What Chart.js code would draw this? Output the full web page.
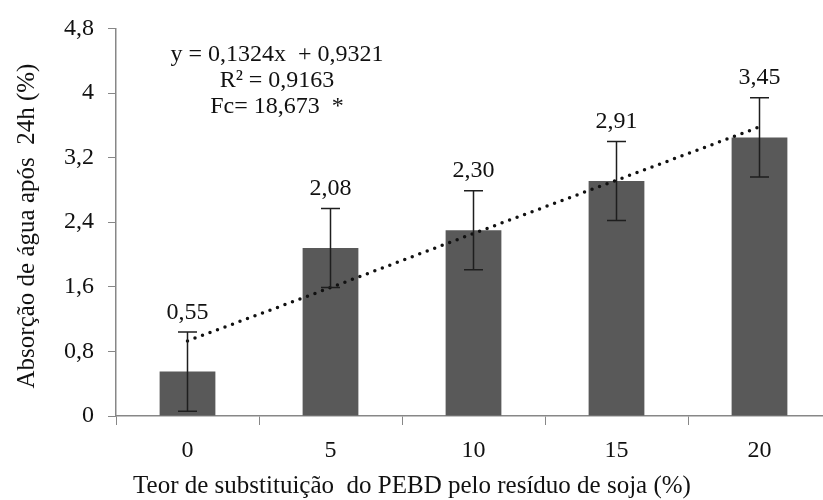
<!DOCTYPE html>
<html>
<head>
<meta charset="utf-8">
<script src="https://cdn.jsdelivr.net/npm/chart.js@4"></script>
<style>
  html, body { margin: 0; padding: 0; background: #fff; overflow: hidden; }
  #wrap { width: 835px; height: 500px; }
</style>
</head>
<body>
<div id="wrap"><canvas id="absChart"></canvas></div>
<script>
// data
const categories = ['0', '5', '10', '15', '20'];
const meanValues = [0.55, 2.08, 2.30, 2.91, 3.45];
const valueLabels = ['0,55', '2,08', '2,30', '2,91', '3,45'];
const errorValues = [0.49, 0.49, 0.49, 0.49, 0.49];
const trendValues = [0.93, 1.59, 2.26, 2.92, 3.58];
const yTickLabels = ['0', '0,8', '1,6', '2,4', '3,2', '4', '4,8'];
const equationLines = ['y = 0,1324x  + 0,9321', 'R² = 0,9163', 'Fc= 18,673  *'];
const xTitle = 'Teor de substituição  do PEBD pelo resíduo de soja (%)';
const yTitle = 'Absorção de água após  24h (%)';

const fontFamily = '"Liberation Serif", "Times New Roman", serif';
const axisGrey = '#878787';

// error bars, value labels, regression text and axis titles
const extrasPlugin = {
    id: 'extras',
    afterDatasetsDraw(chart) {
        const ctx = chart.ctx;
        const yScale = chart.scales.y;
        const area = chart.chartArea;
        const bars = chart.getDatasetMeta(1).data;
        ctx.save();
        ctx.strokeStyle = '#1e1e1e';
        ctx.lineWidth = 1.5;
        bars.forEach((bar, i) => {
            const top = yScale.getPixelForValue(meanValues[i] + errorValues[i]);
            const bot = yScale.getPixelForValue(meanValues[i] - errorValues[i]);
            ctx.beginPath();
            ctx.moveTo(bar.x, top); ctx.lineTo(bar.x, bot);
            ctx.moveTo(bar.x - 9.5, top); ctx.lineTo(bar.x + 9.5, top);
            ctx.moveTo(bar.x - 9.5, bot); ctx.lineTo(bar.x + 9.5, bot);
            ctx.stroke();
        });
        ctx.fillStyle = '#111';
        ctx.font = '24px ' + fontFamily;
        ctx.textAlign = 'center';
        ctx.textBaseline = 'alphabetic';
        bars.forEach((bar, i) => {
            ctx.fillText(valueLabels[i], bar.x, bar.y - 53);
        });
        const cx = area.left + 161;
        equationLines.forEach((t, i) => {
            ctx.fillText(t, cx, area.top + 33 + i * 26);
        });

        ctx.font = '25px ' + fontFamily;
        ctx.textBaseline = 'middle';
        ctx.fillText(xTitle, 412, 486);
        ctx.translate(27, 226);
        ctx.rotate(-Math.PI / 2);
        ctx.fillText(yTitle, 0, 0);
        ctx.restore();
    }
};

new Chart(document.getElementById('absChart'), {
    type: 'bar',
    data: {
        labels: categories,
        datasets: [{
            type: 'line',
            data: trendValues,
            borderColor: '#111',
            borderWidth: 3.5,
            borderDash: [0, 8],
            borderCapStyle: 'round',
            pointRadius: 0,
            fill: false,
            order: 0
        }, {
            data: meanValues,
            backgroundColor: '#595959',
            barPercentage: 0.39,
            categoryPercentage: 1,
            order: 1
        }]
    },
    options: {
        responsive: true,
        maintainAspectRatio: false,
        animation: false,
        layout: { padding: { top: 20, right: 4, left: 0, bottom: 0 } },
        plugins: {
            legend: { display: false },
            tooltip: { enabled: false }
        },
        scales: {
            x: {
                afterFit: (scale) => { scale.height = 84; },
                grid: { offset: true, drawOnChartArea: false, drawTicks: true, tickLength: 9, color: axisGrey },
                border: { color: axisGrey, width: 1.5 },
                ticks: { color: '#111', padding: 11, font: { family: fontFamily, size: 24 } }
            },
            y: {
                min: 0,
                max: 4.8,
                afterFit: (scale) => { scale.width = 116; },
                grid: { drawOnChartArea: false, drawTicks: true, tickLength: 8, color: axisGrey },
                border: { color: axisGrey, width: 1.5 },
                ticks: {
                    stepSize: 0.8,
                    color: '#111',
                    padding: 14,
                    font: { family: fontFamily, size: 24 },
                    callback: (v, i) => yTickLabels[i]
                }
            }
        }
    },
    plugins: [extrasPlugin]
});
</script>
</body>
</html>
